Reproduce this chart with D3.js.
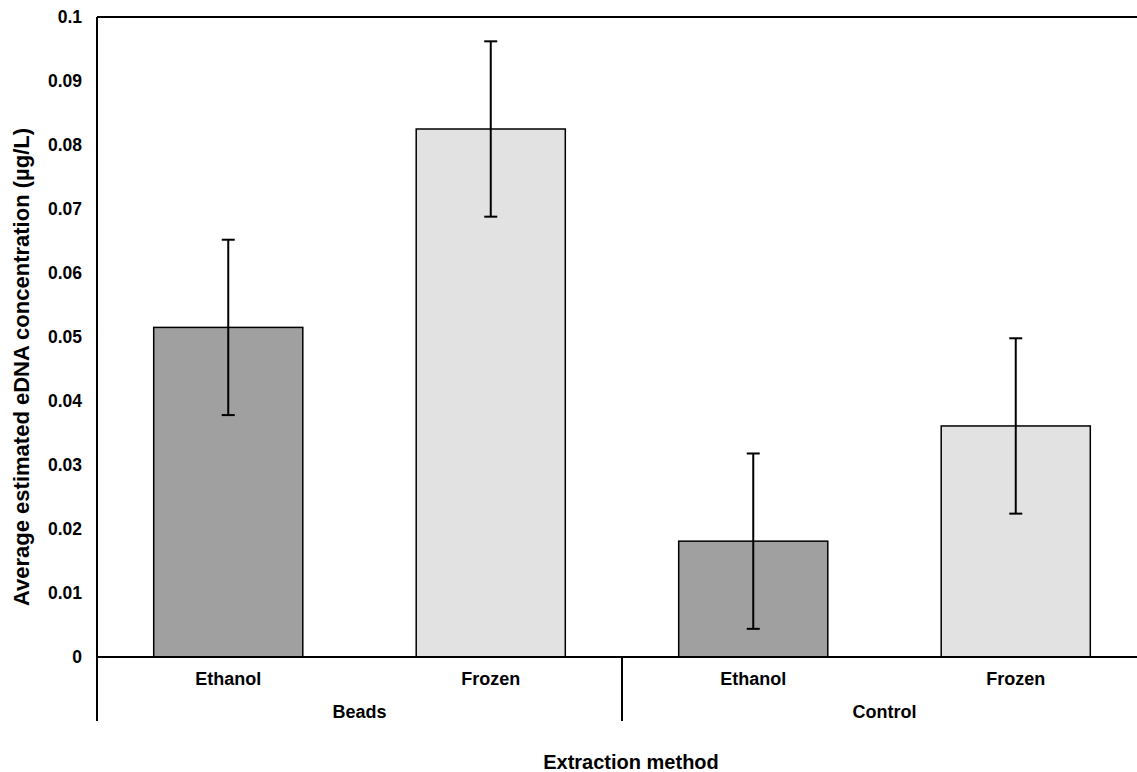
<!DOCTYPE html>
<html>
<head>
<meta charset="utf-8">
<script src="https://cdn.jsdelivr.net/npm/d3@7"></script>
<style>
  body { margin: 0; background: #fff; }
  text { font-family: "Liberation Sans", Arial, sans-serif; font-weight: bold; fill: #000; }
</style>
</head>
<body>
<div id="chart"></div>
<script>
// data
const categories = ["Ethanol", "Frozen", "Ethanol", "Frozen"];
const groups = ["Beads", "Control"];
const means = [0.0515, 0.0825, 0.0181, 0.0361];
const errors = [0.0137, 0.0137, 0.0137, 0.0137];
const yTicks = [0, 0.01, 0.02, 0.03, 0.04, 0.05, 0.06, 0.07, 0.08, 0.09, 0.1];
const fills = ["#a0a0a0", "#e2e2e2", "#a0a0a0", "#e2e2e2"];

const W = 1137, H = 772;
const margin = { top: 17, left: 97 };
const width = 1050, height = 640;

const svg = d3.select("#chart").append("svg")
    .attr("width", W)
    .attr("height", H);

const g = svg.append("g")
    .attr("transform", "translate(" + margin.left + "," + margin.top + ")");

const idx = categories.map((d, i) => i);
const x = d3.scaleBand().domain(idx).range([0, width])
    .paddingInner(0.432).paddingOuter(0.216);
const xg = d3.scaleBand().domain(groups).range([0, width]);
const y = d3.scaleLinear().domain([0, 0.1]).range([height, 0]);

// y tick labels (no tick marks in the original)
g.append("g")
    .call(d3.axisLeft(y).tickValues(yTicks).tickSize(0).tickPadding(15)
        .tickFormat(d => d === 0 ? "0" : d3.format(".2~f")(d)))
    .call(a => a.select(".domain").remove())
    .selectAll("text")
    .attr("font-size", "17.5px")
    .attr("font-family", "Liberation Sans, Arial, sans-serif")
    .attr("font-weight", "bold");

// bars
g.selectAll(".bar")
    .data(idx)
    .enter().append("rect")
    .attr("class", "bar")
    .attr("x", i => x(i))
    .attr("y", i => y(means[i]))
    .attr("width", x.bandwidth())
    .attr("height", i => height - y(means[i]))
    .attr("fill", i => fills[i])
    .attr("stroke", "#000")
    .attr("stroke-width", 1.5);

// error bars
const eb = g.selectAll(".err").data(idx).enter().append("g").attr("class", "err")
    .attr("stroke", "#000").attr("stroke-width", 2);
const cx = i => x(i) + x.bandwidth() / 2;
eb.append("line")
    .attr("x1", cx).attr("x2", cx)
    .attr("y1", i => y(means[i] + errors[i]))
    .attr("y2", i => y(means[i] - errors[i]));
eb.append("line")
    .attr("x1", i => cx(i) - 6.5).attr("x2", i => cx(i) + 6.5)
    .attr("y1", i => y(means[i] + errors[i]))
    .attr("y2", i => y(means[i] + errors[i]));
eb.append("line")
    .attr("x1", i => cx(i) - 6.5).attr("x2", i => cx(i) + 6.5)
    .attr("y1", i => y(means[i] - errors[i]))
    .attr("y2", i => y(means[i] - errors[i]));

// frame lines: top, left, bottom axis
const frame = g.append("g").attr("stroke", "#000").attr("stroke-width", 2);
frame.append("line").attr("x1", 0).attr("x2", width).attr("y1", 0).attr("y2", 0);
frame.append("line").attr("x1", 0).attr("x2", 0).attr("y1", 0).attr("y2", height + 64);
frame.append("line").attr("x1", 0).attr("x2", width).attr("y1", height).attr("y2", height);
// group divider(s)
frame.selectAll(".div").data(groups.slice(1)).enter().append("line")
    .attr("x1", d => xg(d)).attr("x2", d => xg(d))
    .attr("y1", height).attr("y2", height + 64);

// category labels
g.selectAll(".cat").data(idx).enter().append("text")
    .attr("x", cx)
    .attr("y", height + 28)
    .attr("text-anchor", "middle")
    .attr("font-size", "18px")
    .text(i => categories[i]);

// group labels
g.selectAll(".grp").data(groups).enter().append("text")
    .attr("x", d => xg(d) + xg.bandwidth() / 2)
    .attr("y", height + 61)
    .attr("text-anchor", "middle")
    .attr("font-size", "18px")
    .text(d => d);

// axis titles
svg.append("text")
    .attr("x", 631)
    .attr("y", 769)
    .attr("text-anchor", "middle")
    .attr("font-size", "20px")
    .text("Extraction method");

svg.append("text")
    .attr("transform", "translate(29,367) rotate(-90)")
    .attr("text-anchor", "middle")
    .attr("font-size", "22px")
    .text("Average estimated eDNA concentration (µg/L)");
</script>
</body>
</html>
